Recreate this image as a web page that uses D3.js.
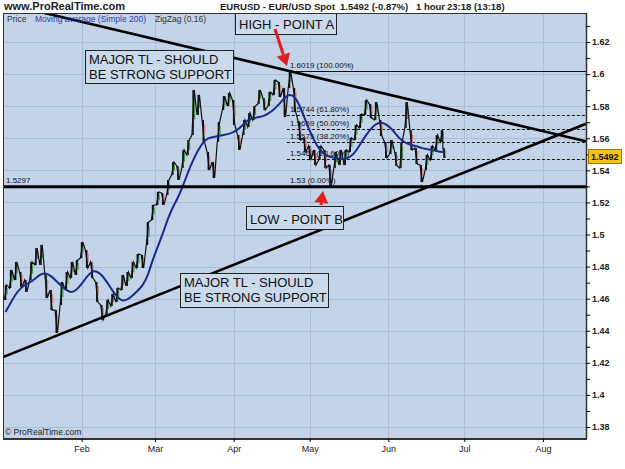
<!DOCTYPE html>
<html>
<head>
<meta charset="utf-8">
<script src="https://cdn.jsdelivr.net/npm/d3@7"></script>
<style>
  body { margin: 0; background: #fff; }
  svg { display: block; font-family: 'Liberation Sans', Arial, sans-serif; }
</style>
</head>
<body>
<div id="chart"></div>
<script>
// EUR/USD 1 hour, sampled every two days (high / low of the hourly bars)
const dates = [
  '2008-01-02','2008-01-04','2008-01-06','2008-01-08','2008-01-10','2008-01-12','2008-01-14','2008-01-16',
  '2008-01-18','2008-01-20','2008-01-22','2008-01-24','2008-01-26','2008-01-28','2008-01-30',
  '2008-02-01','2008-02-03','2008-02-05','2008-02-07','2008-02-09','2008-02-11','2008-02-13','2008-02-15',
  '2008-02-17','2008-02-19','2008-02-21','2008-02-23','2008-02-25','2008-02-27','2008-02-29',
  '2008-03-02','2008-03-04','2008-03-06','2008-03-08','2008-03-10','2008-03-12','2008-03-14','2008-03-16',
  '2008-03-18','2008-03-20','2008-03-22','2008-03-24','2008-03-26','2008-03-28','2008-03-30',
  '2008-04-01','2008-04-03','2008-04-05','2008-04-07','2008-04-09','2008-04-11','2008-04-13','2008-04-15',
  '2008-04-17','2008-04-19','2008-04-21','2008-04-23','2008-04-25','2008-04-27','2008-04-29',
  '2008-05-01','2008-05-03','2008-05-05','2008-05-07','2008-05-09','2008-05-11','2008-05-13','2008-05-15',
  '2008-05-17','2008-05-19','2008-05-21','2008-05-23','2008-05-25','2008-05-27','2008-05-29','2008-05-31',
  '2008-06-02','2008-06-04','2008-06-06','2008-06-08','2008-06-10','2008-06-12','2008-06-14','2008-06-16',
  '2008-06-18','2008-06-20','2008-06-22','2008-06-23'
]

const highs = [
  1.4685,1.4779,1.4829,1.4766,1.4716,1.4829,1.4916,1.4935,1.4748,1.4654,1.4529,1.4704,1.4766,1.4829,1.4841,
  1.4953,1.4903,1.4829,1.4704,1.4560,1.4592,1.4629,1.4666,1.4748,1.4766,1.4829,1.4878,1.4872,1.5078,1.5184,
  1.5265,1.5259,1.5340,1.5452,1.5427,1.5527,1.5589,1.5901,1.5870,1.5714,1.5514,1.5452,1.5701,1.5863,1.5882,
  1.5838,1.5620,1.5714,1.5757,1.5801,1.5901,1.5851,1.5888,1.5963,1.5951,1.5913,1.6019,1.5913,1.5701,1.5602,
  1.5552,1.5527,1.5552,1.5527,1.5433,1.5514,1.5527,1.5527,1.5602,1.5683,1.5751,1.5838,1.5813,1.5826,1.5714,1.5577,
  1.5589,1.5514,1.5577,1.5826,1.5651,1.5539,1.5433,1.5496,1.5552,1.5620,1.5651,1.5539
]

const lows = [
  1.4592,1.4666,1.4716,1.4673,1.4642,1.4716,1.4810,1.4810,1.4604,1.4529,1.4386,1.4560,1.4654,1.4729,1.4748,
  1.4853,1.4791,1.4729,1.4579,1.4467,1.4504,1.4554,1.4579,1.4654,1.4679,1.4729,1.4791,1.4791,1.4934,1.5090,
  1.5184,1.5184,1.5246,1.5371,1.5340,1.5414,1.5496,1.5620,1.5745,1.5577,1.5402,1.5352,1.5577,1.5776,1.5801,
  1.5683,1.5527,1.5620,1.5670,1.5714,1.5813,1.5776,1.5801,1.5870,1.5857,1.5732,1.5913,1.5764,1.5589,1.5514,
  1.5464,1.5433,1.5464,1.5414,1.5302,1.5414,1.5433,1.5433,1.5514,1.5589,1.5664,1.5745,1.5726,1.5714,1.5614,1.5477,
  1.5502,1.5427,1.5414,1.5664,1.5527,1.5439,1.5327,1.5402,1.5464,1.5527,1.5577,1.5477
]

// Moving average (Simple 200)
const maValues = [
  1.4517,1.4573,1.4629,1.4666,1.4691,1.4704,1.4729,1.4754,1.4760,1.4741,1.4710,1.4679,1.4654,1.4635,1.4654,
  1.4691,1.4735,1.4772,1.4772,1.4748,1.4704,1.4654,1.4610,1.4585,1.4592,1.4617,1.4648,1.4679,1.4735,1.4841,
  1.4922,1.5003,1.5097,1.5171,1.5228,1.5302,1.5390,1.5464,1.5527,1.5577,1.5602,1.5608,1.5614,1.5620,1.5626,
  1.5639,1.5658,1.5689,1.5720,1.5726,1.5732,1.5739,1.5757,1.5782,1.5813,1.5851,1.5876,1.5863,1.5807,1.5726,
  1.5645,1.5577,1.5527,1.5496,1.5483,1.5477,1.5471,1.5471,1.5483,1.5514,1.5564,1.5614,1.5658,1.5689,1.5701,1.5689,
  1.5664,1.5626,1.5589,1.5570,1.5558,1.5552,1.5539,1.5533,1.5527,1.5521,1.5514,1.5514
]

const monthTicks = ['2008-02-01','2008-03-01','2008-04-01','2008-05-01','2008-06-01','2008-07-01','2008-08-01']

const fibLevels = [1.6019, 1.5744, 1.5659, 1.5575, 1.5469, 1.53]
const fibLabels = ['1.6019 (100.00%)','1.5744 (61.80%)','1.5659 (50.00%)','1.5575 (38.20%)','1.5469 (23.60%)','1.53 (0.00%)']
const fibStart = '2008-04-22'

const supportLevel = 1.5297
const lastPrice = 1.5492

const upperTL = [['2008-04-23', 1.6019], ['2008-08-18', 1.5581]]
const lowerTL = [['2008-01-01', 1.4236], ['2008-08-18', 1.5690]]

const parse = d3.timeParse('%Y-%m-%d')

const width = 625
const height = 469
const plot = { left: 3, right: 586, top: 13, bottom: 439 }

const bg = '#c3d4e9'
const gridColor = '#a9bdd6'

const svg = d3.select('#chart')
  .append('svg')
  .attr('width', width)
  .attr('height', height)

const x = d3.scaleTime()
  .domain([parse('2008-01-01'), parse('2008-08-18')])
  .range([plot.left, plot.right])

const y = d3.scaleLinear()
  .domain([1.38, 1.62])
  .range([427, 42])

const data = dates.map((d, i) => ({
  date: parse(d),
  high: highs[i],
  low: lows[i],
  ma: maValues[i]
}))

svg.append('defs')
  .append('clipPath')
  .attr('id', 'plot-clip')
  .append('rect')
  .attr('x', plot.left)
  .attr('y', plot.top)
  .attr('width', plot.right - plot.left)
  .attr('height', plot.bottom - plot.top)

// background
svg.append('rect')
  .attr('x', plot.left)
  .attr('y', plot.top)
  .attr('width', plot.right - plot.left)
  .attr('height', plot.bottom - plot.top)
  .attr('fill', bg)

// grid
const yTicksMajor = d3.range(1.38, 1.6301, 0.02).map(d => +d.toFixed(2))
const yTicksAll = d3.range(1.38, 1.6301, 0.01).map(d => +d.toFixed(2))

const grid = svg.append('g').attr('class', 'grid')
  .attr('stroke', gridColor)
  .attr('stroke-width', 1)

grid.selectAll('.grid-y')
  .data(yTicksMajor)
  .join('line')
  .attr('x1', plot.left)
  .attr('x2', plot.right)
  .attr('y1', d => Math.round(y(d)) + 0.5)
  .attr('y2', d => Math.round(y(d)) + 0.5)

grid.selectAll('.grid-x')
  .data(monthTicks.map(parse))
  .join('line')
  .attr('x1', d => Math.round(x(d)) + 0.5)
  .attr('x2', d => Math.round(x(d)) + 0.5)
  .attr('y1', plot.top)
  .attr('y2', plot.bottom)

const inner = svg.append('g').attr('clip-path', 'url(#plot-clip)')

// fibonacci levels
const fib = inner.append('g').attr('class', 'fib')
fib.selectAll('line')
  .data(fibLevels)
  .join('line')
  .attr('x1', x(parse(fibStart)))
  .attr('x2', plot.right)
  .attr('y1', d => Math.round(y(d)) + 0.5)
  .attr('y2', d => Math.round(y(d)) + 0.5)
  .attr('stroke', '#111')
  .attr('stroke-width', 1)
  .attr('stroke-dasharray', (d, i) => (i === 0 || i === fibLevels.length - 1) ? null : '3,2')

fib.selectAll('text')
  .data(fibLevels)
  .join('text')
  .attr('x', x(parse(fibStart)) + 3)
  .attr('y', d => y(d) - 3)
  .attr('font-size', 8)
  .attr('fill', '#111')
  .text((d, i) => fibLabels[i])

// price bars
const bars = inner.append('g').attr('class', 'price')

bars.selectAll('.tick-col')
  .data(data)
  .join('line')
  .attr('x1', d => x(d.date) + 1.5)
  .attr('x2', d => x(d.date) + 1.5)
  .attr('y1', d => y(d.high) + (y(d.low) - y(d.high)) * 0.2)
  .attr('y2', d => y(d.low) - (y(d.low) - y(d.high)) * 0.35)
  .attr('stroke', (d, i) => {
    const prev = data[Math.max(i - 1, 0)]
    return (d.high + d.low) >= (prev.high + prev.low) ? '#3f9a3f' : '#d88484'
  })
  .attr('stroke-width', 1.3)

bars.selectAll('.wick')
  .data(data)
  .join('line')
  .attr('x1', d => x(d.date))
  .attr('x2', d => x(d.date))
  .attr('y1', d => y(d.high))
  .attr('y2', d => y(d.low))
  .attr('stroke', '#111')
  .attr('stroke-width', 1.5)

const zig = []
data.forEach((d, i) => {
  const prev = data[Math.max(i - 1, 0)]
  const up = (d.high + d.low) >= (prev.high + prev.low)
  zig.push([x(d.date) - 1.2, up ? d.low : d.high])
  zig.push([x(d.date) + 1.2, up ? d.high : d.low])
})

bars.append('path')
  .datum(zig)
  .attr('fill', 'none')
  .attr('stroke', '#111')
  .attr('stroke-width', 1.2)
  .attr('d', d3.line().x(d => d[0]).y(d => y(d[1])))

// moving average
inner.append('path')
  .datum(data)
  .attr('fill', 'none')
  .attr('stroke', '#1b2a8f')
  .attr('stroke-width', 2)
  .attr('d', d3.line().curve(d3.curveBasis).x(d => x(d.date)).y(d => y(d.ma)))

// support line
inner.append('line')
  .attr('x1', plot.left)
  .attr('x2', plot.right)
  .attr('y1', y(supportLevel))
  .attr('y2', y(supportLevel))
  .attr('stroke', '#000')
  .attr('stroke-width', 3)

inner.append('text')
  .attr('x', plot.left + 3)
  .attr('y', y(supportLevel) - 4)
  .attr('font-size', 8)
  .attr('fill', '#111')
  .text(supportLevel.toFixed(4))

// trend lines, extended across the whole plot
const extend = (pts) => {
  const t0 = parse(pts[0][0]).getTime()
  const t1 = parse(pts[1][0]).getTime()
  const slope = (pts[1][1] - pts[0][1]) / (t1 - t0)
  const [d0, d1] = x.domain()
  return [d0, d1].map(d => [d, pts[0][1] + slope * (d.getTime() - t0)])
}

inner.selectAll('.tl')
  .data([upperTL, lowerTL].map(extend))
  .join('line')
  .attr('x1', d => x(d[0][0]))
  .attr('y1', d => y(d[0][1]))
  .attr('x2', d => x(d[1][0]))
  .attr('y2', d => y(d[1][1]))
  .attr('stroke', '#000')
  .attr('stroke-width', 2.6)

// legend
const legend = svg.append('g').attr('font-size', 8.5)
legend.append('text').attr('x', 7).attr('y', 22).attr('fill', '#333').text('Price')
legend.append('text').attr('x', 35).attr('y', 22).attr('fill', '#2b3aa8').text('Moving average (Simple 200)')
legend.append('text').attr('x', 155).attr('y', 22).attr('fill', '#333').text('ZigZag (0.16)')

svg.append('text')
  .attr('x', 5)
  .attr('y', 435)
  .attr('font-size', 8.5)
  .attr('fill', '#222')
  .text('© ProRealTime.com')

// annotation boxes
const boxes = [
  { x: 235, y: 13, w: 101, h: 21, lines: ['HIGH - POINT A'] },
  { x: 85, y: 50, w: 148, h: 33, lines: ['MAJOR TL - SHOULD', 'BE STRONG SUPPORT'] },
  { x: 246, y: 206, w: 97, h: 23, lines: ['LOW - POINT B'] },
  { x: 180, y: 273, w: 148, h: 34, lines: ['MAJOR TL - SHOULD', 'BE STRONG SUPPORT'] }
]

const box = svg.append('g').selectAll('g')
  .data(boxes)
  .join('g')

box.append('rect')
  .attr('x', d => d.x + 0.5)
  .attr('y', d => d.y + 0.5)
  .attr('width', d => d.w)
  .attr('height', d => d.h)
  .attr('fill', '#cad9ec')
  .attr('stroke', '#222')
  .attr('stroke-width', 1)

box.selectAll('text')
  .data(d => d.lines.map((l, i) => ({ l, i, b: d })))
  .join('text')
  .attr('x', d => d.b.x + 4)
  .attr('y', d => d.b.y + (d.b.lines.length === 1 ? d.b.h - 5 : 14 + d.i * 15))
  .attr('font-size', 13)
  .attr('fill', '#111')
  .text(d => d.l)

// red arrows
const arrows = [
  { from: [275, 29], to: [287, 66] },
  { from: [321, 205], to: [323, 191] }
]

arrows.forEach(a => {
  const dx = a.to[0] - a.from[0]
  const dy = a.to[1] - a.from[1]
  const len = Math.hypot(dx, dy)
  const ux = dx / len, uy = dy / len
  const hl = 12, hw = 7
  const bx = a.to[0] - ux * hl, by = a.to[1] - uy * hl
  svg.append('line')
    .attr('x1', a.from[0]).attr('y1', a.from[1])
    .attr('x2', bx).attr('y2', by)
    .attr('stroke', '#e0201c')
    .attr('stroke-width', 3)
  svg.append('polygon')
    .attr('points', [
      a.to,
      [bx - uy * hw, by + ux * hw],
      [bx + uy * hw, by - ux * hw]
    ].map(p => p.join(',')).join(' '))
    .attr('fill', '#e0201c')
})

// frame
svg.append('rect')
  .attr('x', plot.left + 0.5)
  .attr('y', plot.top + 0.5)
  .attr('width', plot.right - plot.left)
  .attr('height', plot.bottom - plot.top)
  .attr('fill', 'none')
  .attr('stroke', '#333')
  .attr('stroke-width', 1)

svg.append('line')
  .attr('x1', plot.left).attr('x2', plot.right)
  .attr('y1', plot.bottom).attr('y2', plot.bottom)
  .attr('stroke', '#333').attr('stroke-width', 2)

// axes
const yAxis = svg.append('g')
  .attr('transform', `translate(${plot.right}, 0)`)
  .call(d3.axisRight(y)
    .tickValues(yTicksAll)
    .tickSize(4)
    .tickPadding(2)
    .tickFormat(d => yTicksMajor.includes(d) ? String(+d.toFixed(2)) : ''))

yAxis.select('.domain')
  .attr('d', `M0.5,${plot.top}V${plot.bottom}`)
  .attr('stroke', '#333')
  .attr('stroke-width', 1.5)
yAxis.selectAll('text')
  .attr('font-family', "'Liberation Sans', Arial, sans-serif")
  .attr('font-size', 9)
  .attr('font-weight', 'bold')
  .attr('fill', '#222')

const xAxis = svg.append('g')
  .attr('transform', `translate(0, ${plot.bottom})`)
  .call(d3.axisBottom(x)
    .tickValues(monthTicks.map(parse))
    .tickSize(3)
    .tickPadding(4)
    .tickFormat(d3.timeFormat('%b')))

xAxis.select('.domain').remove()
xAxis.selectAll('text')
  .attr('font-family', "'Liberation Sans', Arial, sans-serif")
  .attr('font-size', 9)
  .attr('fill', '#222')

// last price tag
const tag = svg.append('g').attr('transform', `translate(588, ${Math.round(y(lastPrice)) - 7})`)
tag.append('rect')
  .attr('x', 0.5).attr('y', 0.5)
  .attr('width', 33).attr('height', 14)
  .attr('fill', '#f6c21a')
  .attr('stroke', '#9a7a10')
tag.append('text')
  .attr('x', 3).attr('y', 11)
  .attr('font-size', 9)
  .attr('font-weight', 'bold')
  .attr('fill', '#111')
  .text(lastPrice.toFixed(4))

// header
const header = svg.append('g').attr('font-weight', 'bold').attr('fill', '#222')
header.append('text').attr('x', 4).attr('y', 10).attr('font-size', 11).text('www.ProRealTime.com')
header.append('text').attr('x', 220).attr('y', 10).attr('font-size', 9.5).text('EURUSD - EUR/USD Spot')
header.append('text').attr('x', 340).attr('y', 10).attr('font-size', 9.5).text('1.5492 (-0.87%)')
header.append('text').attr('x', 416).attr('y', 10).attr('font-size', 9.5).text('1 hour')
header.append('text').attr('x', 447).attr('y', 10).attr('font-size', 9.5).text('23:18 (13:18)')
</script>
</body>
</html>
